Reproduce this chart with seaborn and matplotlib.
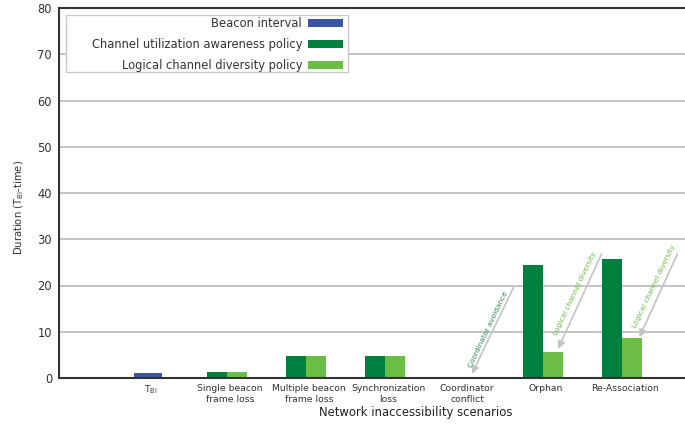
import numpy as np
import pandas as pd
import matplotlib
matplotlib.use("Agg")
import matplotlib.pyplot as plt
import matplotlib.transforms as mtransforms
from matplotlib.patches import Patch, Rectangle
import seaborn as sns

sns.set_theme(style="white")
plt.rcParams["font.family"] = ["DejaVu Sans"]
plt.rcParams["mathtext.fontset"] = "dejavusans"
plt.rcParams["mathtext.default"] = "regular"

# Scenario categories along the x axis
scenarios = [
    r"T$_{\mathrm{BI}}$",
    "Single beacon\nframe loss",
    "Multiple beacon\nframe loss",
    "Synchronization\nloss",
    "Coordinator\nconflict",
    "Orphan",
    "Re-Association",
]

# Series values (duration in beacon-interval units); NaN = no bar
beacon_interval = [1.0, np.nan, np.nan, np.nan, np.nan, np.nan, np.nan]
channel_utilization = [np.nan, 1.2, 4.7, 4.7, 0.0, 24.4, 25.8]
logical_diversity = [np.nan, 1.2, 4.7, 4.7, 0.0, 5.6, 8.6]

series_names = [
    "Beacon interval",
    "Channel utilization awareness policy",
    "Logical channel diversity policy",
]
colors = ["#3b55a5", "#00803e", "#6bbd45"]

policy_df = pd.DataFrame({
    "scenario": scenarios * 2,
    "policy": [series_names[1]] * len(scenarios) + [series_names[2]] * len(scenarios),
    "value": channel_utilization + logical_diversity,
}).dropna()

beacon_df = pd.DataFrame({
    "scenario": scenarios,
    "value": beacon_interval,
}).dropna()

fig = plt.figure(figsize=(6.85, 4.25), dpi=100)
ax = fig.add_axes([59 / 685, 47 / 425, 626 / 685, 370 / 425])

sns.barplot(data=policy_df, x="scenario", y="value", hue="policy",
            order=scenarios, hue_order=series_names[1:],
            palette=colors[1:], width=0.5, dodge=True, errorbar=None,
            saturation=1, linewidth=0, legend=False, ax=ax)
sns.barplot(data=beacon_df, x="scenario", y="value", order=scenarios,
            color=colors[0], width=0.35, errorbar=None, saturation=1,
            linewidth=0, ax=ax)

ax.set_xlim(-1.127, 6.797)
ax.set_ylim(0, 80)
ax.set_yticks(np.arange(0, 81, 10))
ax.yaxis.grid(True, color="#c4c4c4", linewidth=1.4)
ax.xaxis.grid(False)
ax.set_axisbelow(True)

for side in ["left", "bottom", "top"]:
    ax.spines[side].set_color("#333333")
    ax.spines[side].set_linewidth(1.5)
ax.spines["right"].set_visible(False)

ax.tick_params(axis="y", length=0, pad=5, labelsize=8.3, labelcolor="#333333")
ax.tick_params(axis="x", length=0, pad=4, labelsize=6.7, labelcolor="#333333")
nudge = mtransforms.ScaledTranslation(3 / 100, 0, fig.dpi_scale_trans)
for lbl in ax.get_xticklabels():
    lbl.set_linespacing(1.3)
    lbl.set_transform(lbl.get_transform() + nudge)

ax.set_xlabel("Network inaccessibility scenarios", fontsize=8.4, color="#222222")
ax.xaxis.set_label_coords(0.569, -0.076)
ax.set_ylabel(r"Duration (T$_{\mathrm{BI}}$-time)", fontsize=7.2, color="#333333")
ax.yaxis.set_label_coords(-0.052, 0.46)

# Legend box: white panel with a light border, entries right-aligned inside
ax.add_patch(Rectangle((0.0112, 0.827), 0.4505, 0.154, transform=ax.transAxes,
                       facecolor="white", edgecolor="#c8c8c8", linewidth=1.0,
                       zorder=4))
handles = [Patch(facecolor=c, edgecolor="none") for c in colors]
leg = ax.legend(handles, series_names, loc="upper right",
                bbox_to_anchor=(0.4537, 0.9750), borderaxespad=0,
                markerfirst=False, fontsize=8.3, handlelength=3.0,
                handleheight=0.65, labelspacing=0.68, borderpad=0,
                handletextpad=0.55, frameon=False)
leg.set_zorder(5)
for t in leg.get_texts():
    t.set_color("#333333")

# Annotated arrows pointing at the policy effects
arrow_style = dict(arrowstyle="-|>", color="#c4c4c4", lw=1.2,
                   mutation_scale=11, shrinkA=0, shrinkB=0)
notes = [
    ("Coordinator avoidance", (4.10, 0.9), (4.63, 19.7), (4.30, 10.6), "#2e8b50"),
    ("Logical channel diversity", (5.19, 6.3), (5.74, 26.8), (5.41, 18.3), "#6bbd45"),
    ("Logical channel diversity", (6.22, 8.8), (6.70, 26.8), (6.41, 19.9), "#6bbd45"),
]
for text, tip, tail, pos, col in notes:
    ax.annotate("", xy=tip, xytext=tail, arrowprops=arrow_style)
    ax.text(pos[0], pos[1], text, rotation=64.5, rotation_mode="anchor",
            ha="center", va="center", fontsize=5.3, color=col)

fig.savefig("out.png", dpi=100)
